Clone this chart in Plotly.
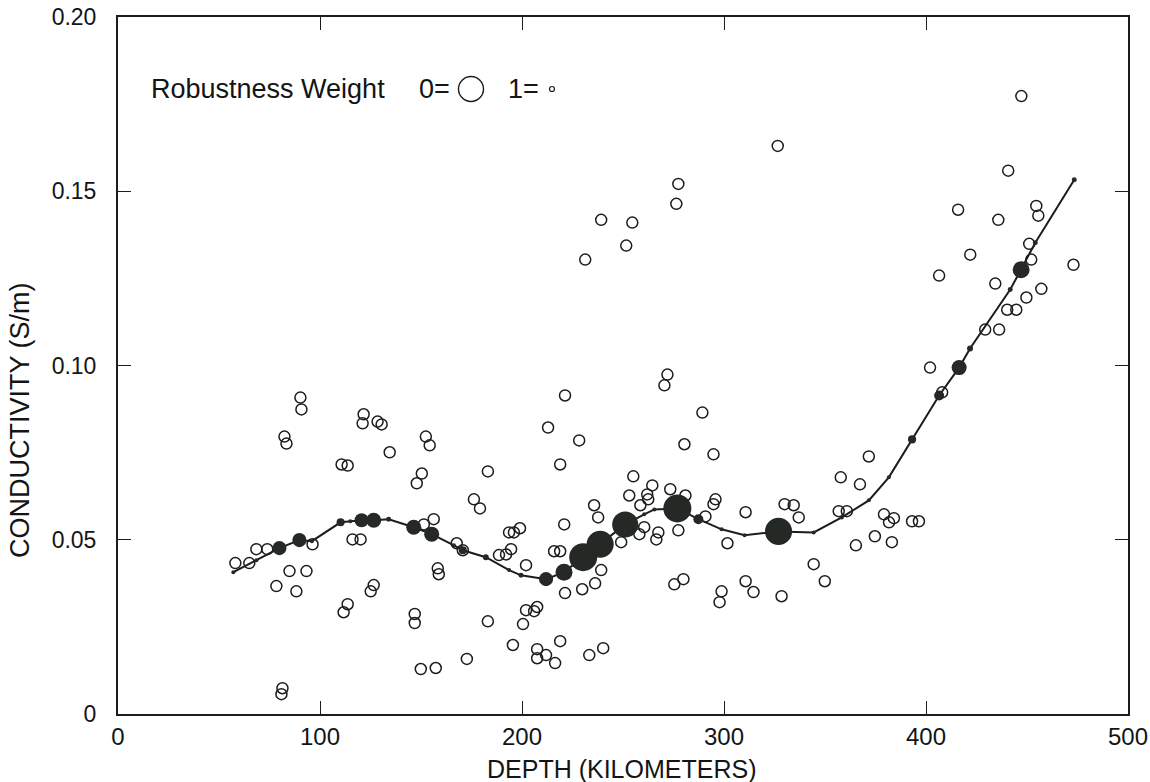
import plotly.graph_objects as go

# ---- observed data (open circles) ----
depth_km = [58.1, 65.0, 68.5, 73.9, 78.4, 84.9, 93.3, 88.3, 82.4, 83.4, 81.4, 80.9, 90.3, 90.8,
            96.3, 116.1, 120.1, 121.6, 121.1, 128.5, 130.5, 134.5, 110.7, 113.7, 126.6, 125.1,
            113.7, 111.7, 152.4, 154.3, 150.4, 147.9, 156.3, 151.4, 158.3, 158.8, 146.9, 146.9,
            149.9, 157.3, 167.7, 170.7, 172.7, 183.1, 176.2, 179.2, 183.1, 188.6, 192.1, 194.6,
            193.6, 196.0, 199.0, 195.5, 200.5, 202.0, 206.0, 207.5, 202.0, 207.5, 207.5, 211.9,
            216.4, 218.9, 215.9, 218.9, 220.9, 218.9, 212.9, 228.3, 221.3, 221.3, 229.8, 236.2,
            239.2, 233.3, 240.2, 235.7, 237.7, 231.3, 239.2, 254.6, 251.6, 255.1, 264.5, 253.1,
            262.0, 262.5, 258.6, 260.5, 258.1, 267.5, 266.5, 249.1, 273.4, 280.9, 277.4, 275.4,
            279.9, 277.4, 276.4, 272.0, 270.5, 280.4, 289.3, 294.8, 295.8, 294.8, 290.8, 310.7,
            301.7, 298.8, 297.8, 310.7, 314.6, 328.5, 326.6, 330.0, 334.5, 337.0, 344.4, 349.9,
            356.8, 360.8, 357.8, 367.3, 371.7, 365.3, 374.7, 383.1, 379.2, 381.7, 384.1, 393.1,
            396.5, 402.0, 408.0, 406.5, 415.9, 421.9, 429.3, 436.2, 434.3, 435.8, 440.2, 444.7,
            449.7, 440.7, 447.2, 451.1, 452.1, 454.6, 455.6, 457.1, 473.0]
conductivity = [0.0433, 0.0433, 0.0473, 0.0473, 0.0367, 0.0410, 0.0410, 0.0352, 0.0796, 0.0776,
                0.0074, 0.0057, 0.0908, 0.0874, 0.0487, 0.0501, 0.0501, 0.0860, 0.0834, 0.0839,
                0.0831, 0.0751, 0.0716, 0.0713, 0.0370, 0.0352, 0.0315, 0.0292, 0.0796, 0.0771,
                0.0690, 0.0662, 0.0559, 0.0544, 0.0418, 0.0401, 0.0287, 0.0261, 0.0129, 0.0132,
                0.0490, 0.0470, 0.0158, 0.0696, 0.0616, 0.0590, 0.0266, 0.0456, 0.0458, 0.0473,
                0.0521, 0.0521, 0.0533, 0.0198, 0.0258, 0.0298, 0.0295, 0.0307, 0.0427, 0.0186,
                0.0160, 0.0169, 0.0146, 0.0209, 0.0467, 0.0467, 0.0544, 0.0716, 0.0822, 0.0785,
                0.0914, 0.0347, 0.0358, 0.0375, 0.0413, 0.0169, 0.0189, 0.0599, 0.0564, 0.1304,
                0.1418, 0.1410, 0.1344, 0.0682, 0.0656, 0.0627, 0.0630, 0.0616, 0.0599, 0.0536,
                0.0516, 0.0521, 0.0501, 0.0493, 0.0645, 0.0627, 0.0527, 0.0372, 0.0387, 0.1521,
                0.1464, 0.0974, 0.0943, 0.0774, 0.0865, 0.0745, 0.0616, 0.0602, 0.0567, 0.0579,
                0.0490, 0.0352, 0.0321, 0.0381, 0.0350, 0.0338, 0.1630, 0.0602, 0.0599, 0.0564,
                0.0430, 0.0381, 0.0582, 0.0582, 0.0679, 0.0659, 0.0739, 0.0484, 0.0510, 0.0493,
                0.0573, 0.0550, 0.0562, 0.0553, 0.0553, 0.0994, 0.0923, 0.1258, 0.1447, 0.1318,
                0.1103, 0.1103, 0.1235, 0.1418, 0.1160, 0.1160, 0.1195, 0.1559, 0.1773, 0.1349,
                0.1304, 0.1458, 0.1430, 0.1220, 0.1289]

# ---- robust smooth (fitted curve) with robustness weights ----
fit_depth = [57.1, 68.5, 79.9, 89.8, 96.0, 110.2, 115.0, 120.6, 126.6, 134.0, 146.4, 155.3,
             166.3, 170.7, 182.1, 193.6, 199.5, 211.9, 220.8, 230.3, 238.7, 251.1, 260.5,
             265.5, 276.9, 287.3, 298.8, 310.2, 327.0, 344.4, 358.3, 371.7, 381.6, 393.1,
             406.5, 416.4, 421.8, 441.7, 447.1, 454.1, 473.4]
fit_cond = [0.0407, 0.0441, 0.0476, 0.0499, 0.0496, 0.0550, 0.0553, 0.0556, 0.0556, 0.0559,
            0.0536, 0.0516, 0.0484, 0.0470, 0.0450, 0.0413, 0.0398, 0.0387, 0.0407, 0.0450,
            0.0487, 0.0544, 0.0573, 0.0587, 0.0590, 0.0559, 0.0530, 0.0513, 0.0524, 0.0521,
            0.0564, 0.0613, 0.0679, 0.0788, 0.0914, 0.0994, 0.1049, 0.1218, 0.1275, 0.1352,
            0.1533]
fit_weight = [1.0, 1.0, 0.58, 0.58, 1.0, 0.83, 1.0, 0.58, 0.54, 0.96, 0.54, 0.54,
              1.0, 0.83, 0.92, 1.0, 0.96, 0.58, 0.46, 0.0, 0.04, 0.08, 1.0,
              1.0, 0.0, 0.75, 1.0, 1.0, 0.04, 1.0, 1.0, 1.0, 1.0, 0.83,
              0.75, 0.54, 0.92, 0.96, 0.46, 0.96, 0.96]

x_ticks = [0, 100, 200, 300, 400, 500]
y_ticks = [0, 0.05, 0.10, 0.15, 0.20]
y_tick_labels = ["0", "0.05", "0.10", "0.15", "0.20"]

INK = "#1b1d1b"
marker_sizes = [4 + 24 * (1 - w) for w in fit_weight]

fig = go.Figure()
fig.add_trace(go.Scatter(
    x=depth_km, y=conductivity, mode="markers",
    marker=dict(symbol="circle-open", size=11, color=INK, opacity=1,
                line=dict(width=1.5, color=INK)),
    showlegend=False, hoverinfo="x+y"))
fig.add_trace(go.Scatter(
    x=fit_depth, y=fit_cond, mode="lines+markers",
    line=dict(color=INK, width=2),
    marker=dict(symbol="circle", size=marker_sizes, color="#252925", opacity=1,
                line=dict(width=0)),
    showlegend=False, hoverinfo="x+y"))

W, H = 1150, 782
L, T = 118, 17
R = W - 1128
B = H - 714
pw, ph = W - L - R, H - T - B

def px_x(p):
    return (p - L) / pw

def px_y(p):
    return (H - B - p) / ph

FAM = "Liberation Sans, Arial, Helvetica, sans-serif"
TXT = "#141414"

fig.update_layout(
    width=W, height=H,
    margin=dict(l=L, r=R, t=T, b=B, pad=0),
    paper_bgcolor="white", plot_bgcolor="white",
    xaxis=dict(range=[0, 500], tickvals=x_ticks, ticks="inside", ticklen=13, tickwidth=1.3,
               tickcolor=INK, showline=True, linewidth=2, linecolor=INK, mirror="ticks",
               showgrid=False, zeroline=False, automargin=False, ticklabeloverflow="allow",
               tickfont=dict(family=FAM, size=24, color=TXT), ticklabelstandoff=0),
    yaxis=dict(range=[0, 0.20], tickvals=y_ticks, ticktext=y_tick_labels, ticks="inside",
               ticklen=13, tickwidth=1.3, tickcolor=INK, showline=True, linewidth=2,
               linecolor=INK, mirror="ticks", showgrid=False, zeroline=False, automargin=False,
               ticklabeloverflow="allow",
               tickfont=dict(family=FAM, size=23, color=TXT), ticklabelstandoff=15),
    annotations=[
        dict(text="DEPTH (KILOMETERS)", xref="paper", yref="paper",
             x=px_x(621), y=px_y(769), xanchor="center", yanchor="middle", showarrow=False,
             font=dict(family=FAM, size=25, color=TXT)),
        dict(text="CONDUCTIVITY (S/m)", xref="paper", yref="paper", textangle=-90,
             x=px_x(20), y=px_y(420), xanchor="center", yanchor="middle", showarrow=False,
             font=dict(family=FAM, size=27, color=TXT)),
        dict(text="Robustness Weight", xref="paper", yref="paper",
             x=px_x(149), y=px_y(89), xanchor="left", yanchor="middle", showarrow=False,
             font=dict(family=FAM, size=27, color=TXT)),
        dict(text="0=", xref="paper", yref="paper",
             x=px_x(417), y=px_y(89), xanchor="left", yanchor="middle", showarrow=False,
             font=dict(family=FAM, size=27, color=TXT)),
        dict(text="1=", xref="paper", yref="paper",
             x=px_x(506), y=px_y(89), xanchor="left", yanchor="middle", showarrow=False,
             font=dict(family=FAM, size=27, color=TXT)),
    ],
    shapes=[
        dict(type="circle", xref="paper", yref="paper", xsizemode="pixel", ysizemode="pixel",
             xanchor=px_x(471), yanchor=px_y(89), x0=-12.5, x1=12.5, y0=-12.5, y1=12.5,
             line=dict(color=INK, width=1.4)),
        dict(type="circle", xref="paper", yref="paper", xsizemode="pixel", ysizemode="pixel",
             xanchor=px_x(552), yanchor=px_y(89), x0=-2.5, x1=2.5, y0=-2.5, y1=2.5,
             line=dict(color=INK, width=1.2)),
    ],
)

# remove the default 8px page margin so the figure fills the 1150x782 window exactly
fig.write_html("out.html", config={"displayModeBar": False},
               post_script="document.body.style.margin='0';")
